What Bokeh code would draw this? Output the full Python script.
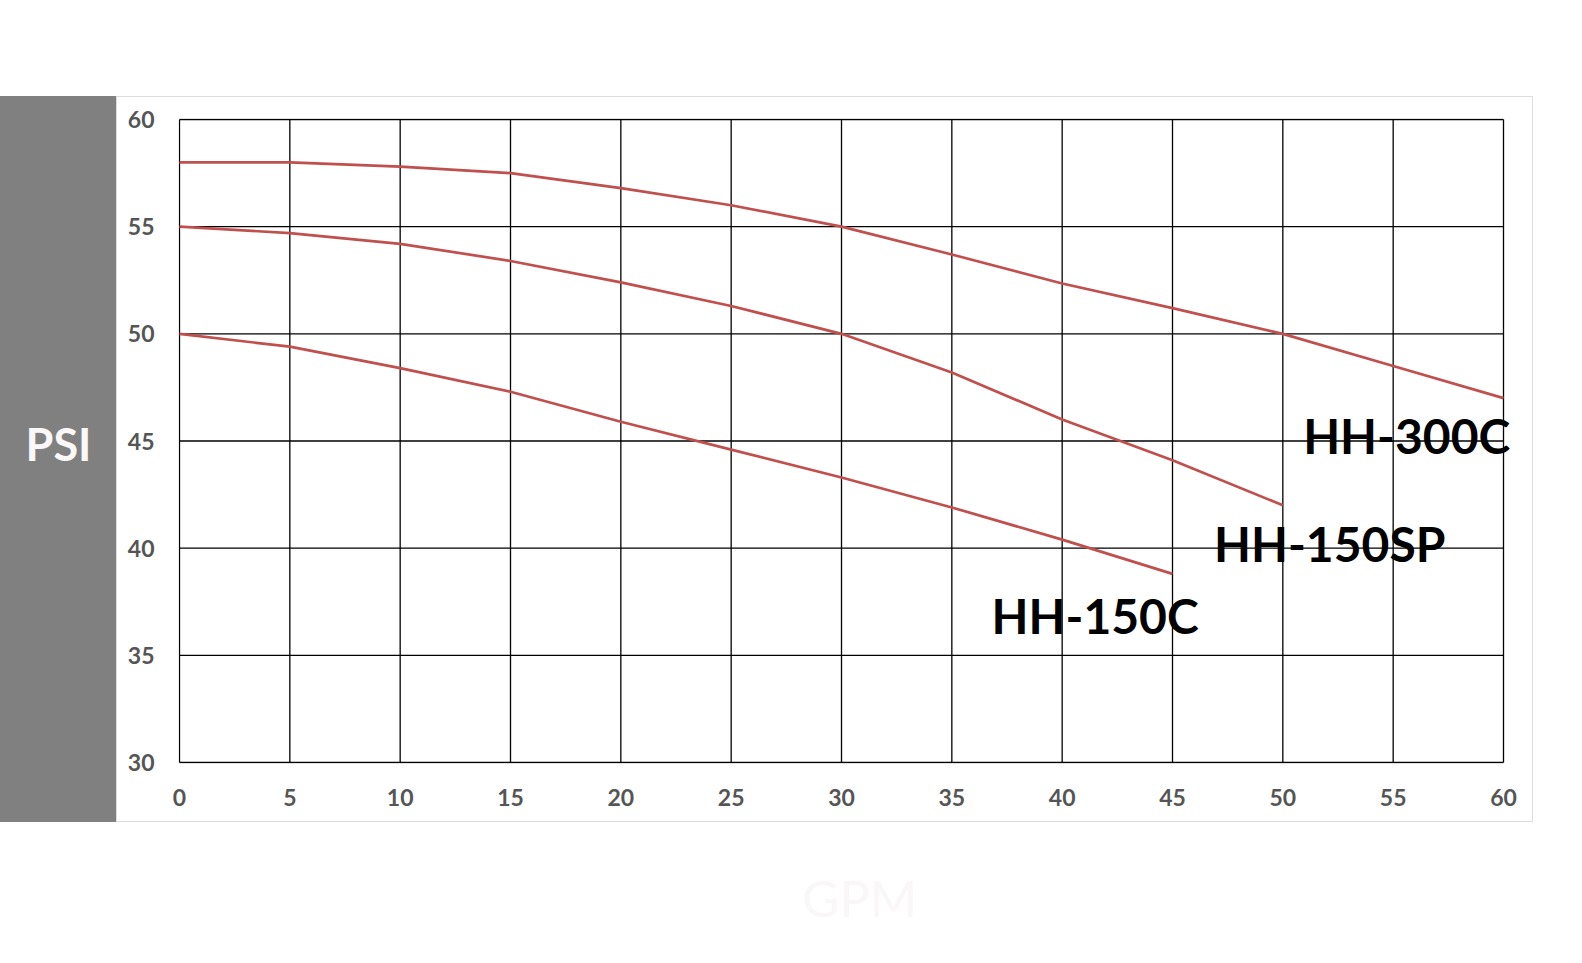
from bokeh.plotting import figure
from bokeh.models import Range1d, FixedTicker, Label, Spacer
from bokeh.layouts import column, row
from bokeh.embed import file_html
from bokeh.resources import INLINE

# ---- data ----
gpm = [0, 5, 10, 15, 20, 25, 30, 35, 40, 45, 50, 55, 60]
hh300c = [58.0, 58.0, 57.8, 57.5, 56.8, 56.0, 55.0, 53.7, 52.35, 51.2, 50.0, 48.5, 47.0]
gpm_150sp = [0, 5, 10, 15, 20, 25, 30, 35, 40, 45, 50]
hh150sp = [55.0, 54.7, 54.2, 53.4, 52.4, 51.3, 50.0, 48.2, 46.0, 44.1, 42.0]
gpm_150c = [0, 5, 10, 15, 20, 25, 30, 35, 40, 45]
hh150c = [50.0, 49.4, 48.4, 47.3, 45.9, 44.6, 43.3, 41.9, 40.4, 38.8]

series_names = ["HH-300C", "HH-150SP", "HH-150C"]
x_ticks = [0, 5, 10, 15, 20, 25, 30, 35, 40, 45, 50, 55, 60]
y_ticks = [30, 35, 40, 45, 50, 55, 60]

# label anchor positions (left, vertical centre) in data units
label_x = [50.92, 46.88, 36.80]
label_y = [45.24, 40.21, 36.87]

RED = "#c0504d"
FONT = "Lato"
BORDER = "#dddddd"

# pixel scale of the chart (px per unit)
PX_X = 22.07
PX_Y = 21.43
X_MIN, X_MAX = min(x_ticks), max(x_ticks)
Y_MIN, Y_MAX = min(y_ticks), max(y_ticks)

# ---- left grey strip with PSI ----
gray = figure(width=116, height=726, x_range=Range1d(0, 116), y_range=Range1d(726, 0),
              x_axis_location=None, y_axis_location=None, min_border=0,
              output_backend="svg", toolbar_location=None,
              background_fill_alpha=0, border_fill_alpha=0, outline_line_color=None)
gray.styles = {"background-color": "#808080"}
gray.grid.visible = False
gray.add_layout(Label(x=58, y=347, text="PSI", text_align="center", text_baseline="middle",
                      text_font=FONT, text_font_style="bold", text_font_size="45px",
                      text_color="#faf8f8"))

# ---- main chart ----
p = figure(width=1415, height=724,
           x_range=Range1d(X_MIN - 1 / PX_X, X_MAX + 29 / PX_X),
           y_range=Range1d(Y_MIN - 1 / PX_Y, Y_MAX + 1 / PX_Y),
           min_border_left=61, min_border_right=0, min_border_top=21, min_border_bottom=58,
           output_backend="svg", toolbar_location=None,
           background_fill_color="white", border_fill_color="white",
           outline_line_color=None)
p.grid.visible = False

p.xaxis.ticker = FixedTicker(ticks=x_ticks)
p.yaxis.ticker = FixedTicker(ticks=y_ticks)
for ax in (p.xaxis, p.yaxis):
    ax.axis_line_color = None
    ax.major_tick_line_color = None
    ax.minor_tick_line_color = None
    ax.major_tick_out = 0
    ax.major_tick_in = 0
    ax.major_label_text_font = FONT
    ax.major_label_text_font_style = "bold"
    ax.major_label_text_font_size = "23px"
    ax.major_label_text_color = "#555555"
p.yaxis.major_label_standoff = 24
p.xaxis.major_label_standoff = 25

# grid box limited to the 0..60 x 30..60 area
p.segment(x0=x_ticks, y0=[Y_MIN] * len(x_ticks), x1=x_ticks, y1=[Y_MAX] * len(x_ticks),
          line_color="black", line_width=1.3)
p.segment(x0=[X_MIN] * len(y_ticks), y0=y_ticks, x1=[X_MAX] * len(y_ticks), y1=y_ticks,
          line_color="black", line_width=1.3)

p.line(gpm, hh300c, line_color=RED, line_width=2.7)
p.line(gpm_150sp, hh150sp, line_color=RED, line_width=2.7)
p.line(gpm_150c, hh150c, line_color=RED, line_width=2.7)

for name, lx, ly in zip(series_names, label_x, label_y):
    p.add_layout(Label(x=lx, y=ly, text=name, text_align="left", text_baseline="middle",
                       text_font=FONT, text_font_style="bold", text_font_size="48px",
                       text_color="black"))

# light grey frame around the chart panel
top_line = Spacer(width=1417, height=1, styles={"background-color": BORDER})
bottom_line = Spacer(width=1417, height=1, styles={"background-color": BORDER})
left_line = Spacer(width=1, height=724, styles={"background-color": BORDER})
right_line = Spacer(width=1, height=724, styles={"background-color": BORDER})
panel = column(top_line, row(left_line, p, right_line), bottom_line)

# ---- bottom strip with faint GPM ----
gpm_fig = figure(width=1574, height=133, x_range=Range1d(0, 1574), y_range=Range1d(133, 0),
                 x_axis_location=None, y_axis_location=None, min_border=0,
                 output_backend="svg", toolbar_location=None,
                 background_fill_color="white", border_fill_color="white",
                 outline_line_color=None)
gpm_fig.grid.visible = False
gpm_fig.add_layout(Label(x=859, y=74.5, text="GPM", text_align="center", text_baseline="middle",
                         text_font=FONT, text_font_size="51px", text_color="#f9f7f7"))

root = column(Spacer(width=1574, height=96), row(gray, panel), gpm_fig)

open("out.html", "w").write(file_html(root, INLINE))
